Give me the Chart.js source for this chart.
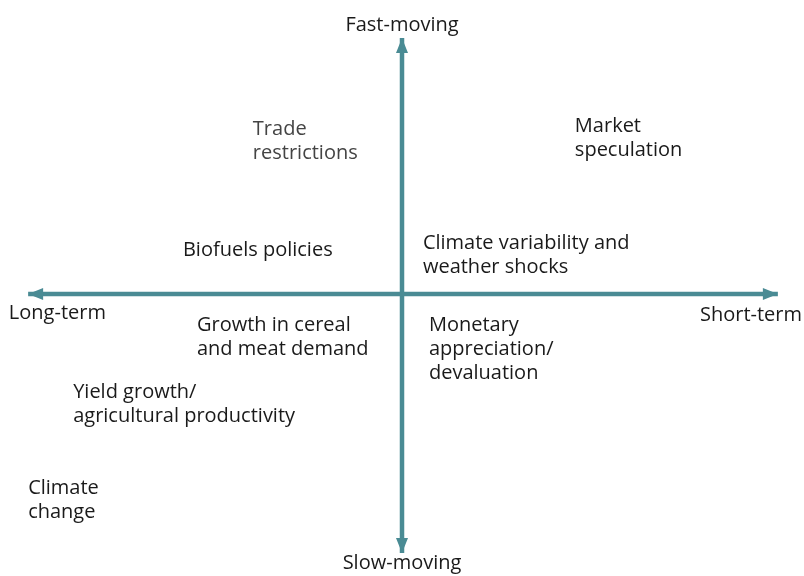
<!DOCTYPE html>
<html>
<head>
<meta charset="utf-8">
<script src="https://cdn.jsdelivr.net/npm/chart.js@4.4.1/dist/chart.umd.min.js"></script>
<style>
    html, body { margin: 0; padding: 0; background: #fff; }
    #wrap { width: 804px; height: 576px; }
</style>
</head>
<body>
<div id="wrap"><canvas id="quadrant"></canvas></div>
<script>
// factors placed on the two axes (x: long-term -> short-term, y: slow -> fast moving)
const factorLabels = [
    ['Market', 'speculation'],
    ['Trade', 'restrictions'],
    ['Biofuels policies'],
    ['Climate variability and', 'weather shocks'],
    ['Growth in cereal', 'and meat demand'],
    ['Monetary', 'appreciation/', 'devaluation'],
    ['Yield growth/', 'agricultural productivity'],
    ['Climate', 'change']
];
const factorX = [4.30, -3.71, -5.45, 0.52, -5.10, 0.67, -8.18, -9.30];
const factorY = [5.95, 5.85, 1.56, 1.81, -1.10, -1.10, -3.48, -6.88];
const factorColors = ['#1a1a1a', '#444444', '#1a1a1a', '#1a1a1a', '#1a1a1a', '#1a1a1a', '#1a1a1a', '#1a1a1a'];

// axis ends
const horizontalAxisX = [-9.30, 9.35];
const verticalAxisY = [-9.18, 9.08];

// axis captions
const axisCaptions = ['Fast-moving', 'Slow-moving', 'Long-term', 'Short-term'];
const axisCaptionX = [0, 0, -9.78, 9.95];
const axisCaptionY = [9.54, -9.54, -0.67, -0.74];
const axisCaptionAlign = ['center', 'center', 'left', 'right'];

const axisColor = '#4a8b94';
const textFont = '20px "Open Sans", sans-serif';
const lineHeight = 24;

const arrowHeads = {
    id: 'arrowHeads',
    afterDatasetsDraw(chart) {
        const ctx = chart.ctx;
        const xs = chart.scales.x;
        const ys = chart.scales.y;
        const cx = xs.getPixelForValue(0);
        const cy = ys.getPixelForValue(0);
        const tips = [
            [xs.getPixelForValue(horizontalAxisX[0]), cy, -1, 0],
            [xs.getPixelForValue(horizontalAxisX[1]), cy, 1, 0],
            [cx, ys.getPixelForValue(verticalAxisY[0]), 0, 1],
            [cx, ys.getPixelForValue(verticalAxisY[1]), 0, -1]
        ];
        const len = 15;
        const half = 6;
        ctx.save();
        ctx.fillStyle = axisColor;
        tips.forEach(([tx, ty, dx, dy]) => {
            const bx = tx - dx * len;
            const by = ty - dy * len;
            ctx.beginPath();
            ctx.moveTo(tx, ty);
            ctx.lineTo(bx - dy * half, by + dx * half);
            ctx.lineTo(bx + dy * half, by - dx * half);
            ctx.closePath();
            ctx.fill();
        });
        ctx.restore();
    }
};

const textLabels = {
    id: 'textLabels',
    afterDatasetsDraw(chart) {
        const ctx = chart.ctx;
        const xs = chart.scales.x;
        const ys = chart.scales.y;
        ctx.save();
        ctx.font = textFont;
        ctx.textBaseline = 'middle';
        factorLabels.forEach((lines, i) => {
            const px = xs.getPixelForValue(factorX[i]);
            const py = ys.getPixelForValue(factorY[i]);
            ctx.fillStyle = factorColors[i];
            ctx.textAlign = 'left';
            lines.forEach((line, j) => ctx.fillText(line, px, py + j * lineHeight));
        });
        ctx.fillStyle = '#1a1a1a';
        axisCaptions.forEach((caption, i) => {
            ctx.textAlign = axisCaptionAlign[i];
            ctx.fillText(caption, xs.getPixelForValue(axisCaptionX[i]), ys.getPixelForValue(axisCaptionY[i]));
        });
        ctx.restore();
    }
};

new Chart(document.getElementById('quadrant'), {
    type: 'scatter',
    data: {
        datasets: [
            {
                data: horizontalAxisX.map(x => ({x: x, y: 0})),
                showLine: true,
                borderColor: axisColor,
                borderWidth: 4.5,
                pointRadius: 0
            },
            {
                data: verticalAxisY.map(y => ({x: 0, y: y})),
                showLine: true,
                borderColor: axisColor,
                borderWidth: 4.5,
                pointRadius: 0
            },
            {
                data: factorX.map((x, i) => ({x: x, y: factorY[i]})),
                pointRadius: 0
            }
        ]
    },
    options: {
        responsive: true,
        maintainAspectRatio: false,
        animation: false,
        layout: {padding: {top: 12, left: 0, right: 0, bottom: 0}},
        scales: {
            x: {type: 'linear', min: -10, max: 10, display: false},
            y: {type: 'linear', min: -10, max: 10, display: false}
        },
        plugins: {
            legend: {display: false},
            tooltip: {enabled: false}
        }
    },
    plugins: [arrowHeads, textLabels]
});
</script>
</body>
</html>
